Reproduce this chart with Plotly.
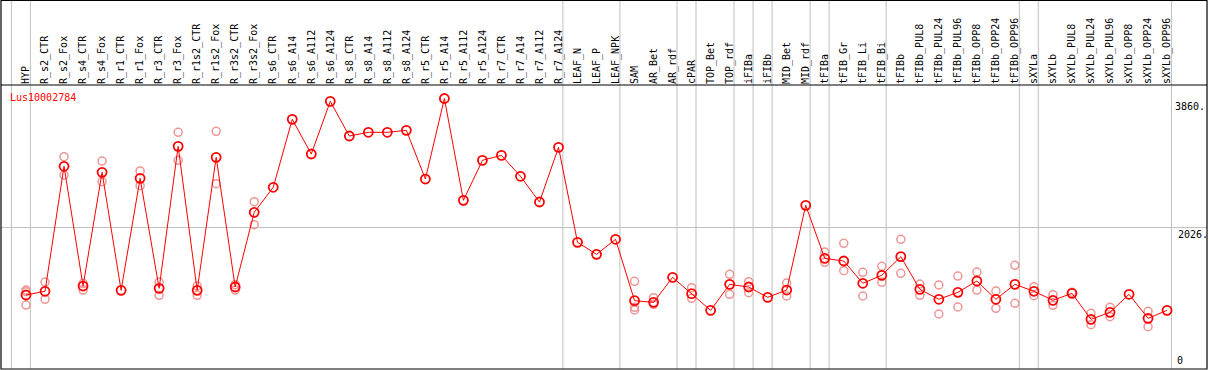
import plotly.graph_objects as go

categories = [
    "HYP", "R_s2_CTR", "R_s2_Fox", "R_s4_CTR", "R_s4_Fox", "R_r1_CTR", "R_r1_Fox",
    "R_r3_CTR", "R_r3_Fox", "R_r1s2_CTR", "R_r1s2_Fox", "R_r3s2_CTR", "R_r3s2_Fox",
    "R_s6_CTR", "R_s6_A14", "R_s6_A112", "R_s6_A124", "R_s8_CTR", "R_s8_A14",
    "R_s8_A112", "R_s8_A124", "R_r5_CTR", "R_r5_A14", "R_r5_A112", "R_r5_A124",
    "R_r7_CTR", "R_r7_A14", "R_r7_A112", "R_r7_A124", "LEAF_N", "LEAF_P", "LEAF_NPK",
    "SAM", "AR_Bet", "AR_rdf", "cPAR", "TOP_Bet", "TOP_rdf", "iFIBa", "iFIBb",
    "MID_Bet", "MID_rdf", "tFIBa", "tFIB_Gr", "tFIB_Li", "tFIB_Bi", "tFIBb",
    "tFIBb_PUL8", "tFIBb_PUL24", "tFIBb_PUL96", "tFIBb_OPP8", "tFIBb_OPP24", "tFIBb_OPP96",
    "sXYLa", "sXYLb", "sXYLb_PUL8", "sXYLb_PUL24", "sXYLb_PUL96", "sXYLb_OPP8",
    "sXYLb_OPP24", "sXYLb_OPP96",
]

mean_values = [
    1056, 1109, 2893, 1184, 2807, 1123, 2721, 1151, 3178, 1123, 3021, 1170, 2236,
    2593, 3563, 3068, 3820, 3325, 3378, 3378, 3406, 2711, 3860, 2407, 2978,
    3049, 2750, 2383, 3163, 1808, 1636, 1851,
    975, 951, 1308, 1075, 837, 1208, 1170, 1023, 1127, 2336,
    1579, 1541, 1223, 1337, 1603,
    1137, 995, 1094, 1256, 995, 1208,
    1109, 980, 1080, 709, 809, 1066, 723, 837,
]

rep_a = [
    1127, 1241, 3030, 1223, 2968, None, 2826, 1241, 3378, 1184, 3392, 1203, 2388,
    None, None, None, None, None, None, None, None, None, None, None, None,
    None, None, None, None, None, None, None,
    1251, 1018, None, 1160, None, 1351, 1246, None, 1227, None,
    1670, 1794, 1380, 1466, 1851,
    1213, 1199, 1327, 1384, 1113, 1480,
    1175, 1061, 1094, 795, 880, None, 823, None,
]

rep_b = [
    1103, 995, 2768, 1127, 2673, None, 2616, 1052, 2978, 1052, 2645, 1127, 2059,
    None, None, None, None, None, None, None, None, None, None, None, None,
    None, None, None, None, None, None, None,
    880, 923, None, 1009, None, 1066, 1089, None, 1042, None,
    1523, 1403, 1042, 1237, 1366,
    1052, 785, 885, 1127, 866, 938,
    1046, 909, None, 632, 746, None, 604, None,
]

rep_c = [913] + [None] * 31 + [842] + [None] * 28

gene_name = "Lus10002784"
y_max_label = 3860
y_top = 4053          # 1.05 x max
y_mid = 2026.5
group_breaks = [-1, 0, 28, 31, 34, 35, 37, 38, 39, 41, 42, 45, 52, 53, 60]

FONT = "DejaVu Sans Mono"
RED = "#ff0000"
PINK = "rgb(238,150,150)"

fig = go.Figure()

for reps in (rep_a, rep_b, rep_c):
    fig.add_trace(go.Scatter(
        x=categories, y=reps, mode="markers",
        marker=dict(symbol="circle-open", size=8, color=PINK, line=dict(width=1.5, color=PINK)),
        hoverinfo="skip", showlegend=False,
    ))

fig.add_trace(go.Scatter(
    x=categories, y=mean_values, mode="lines+markers",
    line=dict(color=RED, width=1),
    marker=dict(symbol="circle-open", size=9, color=RED, line=dict(width=1.8, color=RED)),
    showlegend=False,
))

top_paper = 1.2975
shapes = []
for b in group_breaks:
    shapes.append(dict(type="line", xref="x", yref="paper", x0=b + 0.23, x1=b + 0.23,
                       y0=0, y1=top_paper, line=dict(color="#c0c0c0", width=1), layer="below"))
shapes.append(dict(type="rect", xref="paper", yref="paper", x0=0, x1=1, y0=0, y1=top_paper,
                   line=dict(color="black", width=1.2), fillcolor="rgba(0,0,0,0)"))
shapes.append(dict(type="line", xref="paper", yref="paper", x0=0, x1=1, y0=1, y1=1,
                   line=dict(color="black", width=1.2)))

annotations = [
    dict(text=gene_name, xref="paper", yref="paper", x=0, y=0.956, xanchor="left",
         yanchor="middle", xshift=7, showarrow=False, font=dict(family=FONT, size=10, color=RED)),
    dict(text=f"{y_max_label}.", xref="paper", yref="y", x=1, y=y_max_label, xanchor="right",
         yanchor="top", showarrow=False, font=dict(family=FONT, size=10, color="black")),
    dict(text=f"{int(y_mid)}.", xref="paper", yref="y", x=1, y=y_mid, xanchor="right",
         yanchor="top", xshift=3, showarrow=False, font=dict(family=FONT, size=10, color="black")),
    dict(text="0", xref="paper", yref="y", x=1, y=0, xanchor="right", yanchor="bottom",
         xshift=-22, yshift=1, showarrow=False, font=dict(family=FONT, size=10, color="black")),
]

fig.update_layout(
    width=1209, height=370,
    margin=dict(l=1, r=2, t=85, b=1, pad=0, autoexpand=False),
    paper_bgcolor="white", plot_bgcolor="white",
    shapes=shapes, annotations=annotations,
    xaxis=dict(type="category", categoryorder="array", categoryarray=categories,
               range=[-1.315, 62.1], side="top", tickangle=-90, showgrid=False,
               zeroline=False, showline=False, ticks="", automargin=False,
               tickfont=dict(family=FONT, size=10, color="black"), ticklabelstandoff=0),
    yaxis=dict(range=[0, y_top], tickvals=[y_mid], showticklabels=False, showgrid=True,
               gridcolor="#c0c0c0", gridwidth=1, zeroline=False, showline=False, ticks="",
               automargin=False),
)

fig.write_html("out.html", config={"displayModeBar": False},
               post_script="document.body.style.margin='0px';")
